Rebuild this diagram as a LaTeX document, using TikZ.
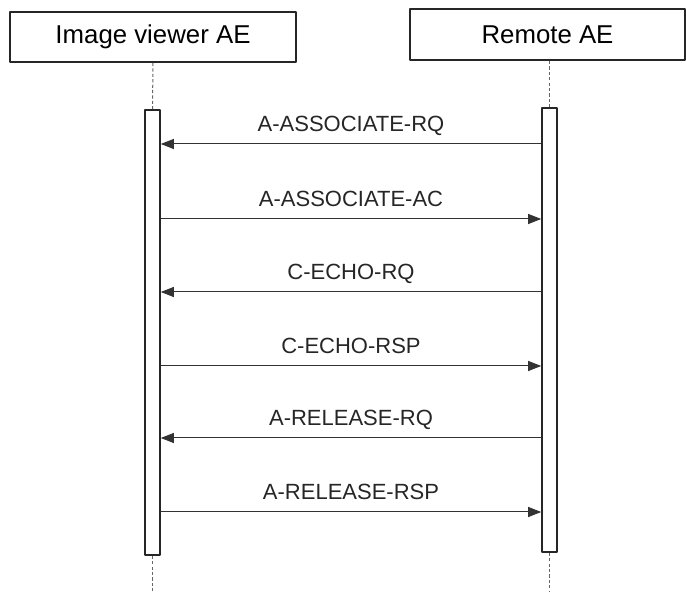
\documentclass[tikz,border=0pt]{standalone}
\usepackage{fontspec}
\setmainfont{Liberation Sans}
\usetikzlibrary{arrows.meta}
\tikzset{
  actor/.style={draw=black!85, line width=1pt, inner sep=0pt, font=\fontsize{12.9}{15}\selectfont},
  bar/.style={draw=black!85, line width=0.8pt, fill=white, inner sep=0pt, minimum width=7.5pt},
  life/.style={draw=black!60, line width=0.5pt, dash pattern=on 1.6pt off 1.1pt},
  msg/.style={draw=black!80, line width=0.5pt, -{Triangle[length=6.5pt,width=5pt]}},
  lbl/.style={anchor=base, yshift=6pt, font=\fontsize{11}{13}\selectfont, text=black!85}
}
\begin{document}
\begin{tikzpicture}[x=0.5pt, y=-0.5pt, line join=round]
\useasboundingbox (0,0) rectangle (686,592);
% Teilnehmer
\node[actor, minimum width=143pt, minimum height=25pt] (viewer) at (153,37) {Image viewer AE};
\node[actor, minimum width=137.5pt, minimum height=25.5pt] (remote) at (547.5,34.5) {Remote AE};
% Aktivierungsbalken
\node[bar, minimum height=222.5pt] (lb) at (152.5,332.5) {};
\node[bar, minimum height=222pt] (rb) at (549.5,330) {};
\coordinate (lend) at (152.5,592);
\coordinate (rend) at (549.5,592);
\draw[life] (viewer.south) -- (lb.north);
\draw[life] (lb.south) -- (lend);
\draw[life] (remote.south -| rb.north) -- (rb.north);
\draw[life] (rb.south) -- (rend);
% Nachrichten
\coordinate (m1) at (0,144);
\coordinate (m2) at (0,219);
\coordinate (m3) at (0,292);
\coordinate (m4) at (0,366);
\coordinate (m5) at (0,438);
\coordinate (m6) at (0,512);
\draw[msg] (rb.west |- m1) -- node[lbl]{A-ASSOCIATE-RQ} (lb.east |- m1);
\draw[msg] (lb.east |- m2) -- node[lbl]{A-ASSOCIATE-AC} (rb.west |- m2);
\draw[msg] (rb.west |- m3) -- node[lbl]{C-ECHO-RQ} (lb.east |- m3);
\draw[msg] (lb.east |- m4) -- node[lbl]{C-ECHO-RSP} (rb.west |- m4);
\draw[msg] (rb.west |- m5) -- node[lbl]{A-RELEASE-RQ} (lb.east |- m5);
\draw[msg] (lb.east |- m6) -- node[lbl]{A-RELEASE-RSP} (rb.west |- m6);
\end{tikzpicture}
\end{document}
